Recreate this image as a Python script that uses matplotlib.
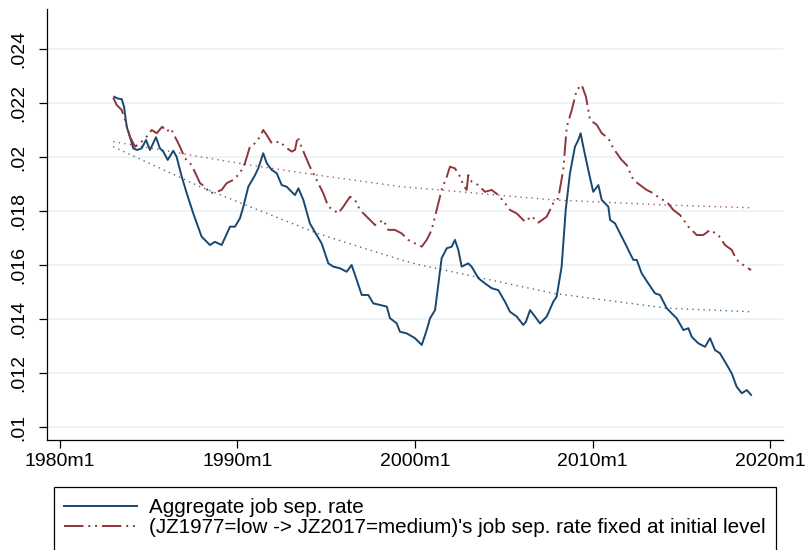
"""Aggregate job separation rate vs. rate with JZ shares fixed at initial level."""
import numpy as np
import matplotlib
matplotlib.use("Agg")
import matplotlib.pyplot as plt
from matplotlib.patches import Rectangle

# --- data (time in decimal years) ---
agg_t = [1983.06, 1983.23, 1983.48, 1983.61, 1983.76, 1983.94, 1984.13, 1984.35, 1984.60, 1984.85,
         1985.07, 1985.41, 1985.63, 1985.82, 1986.07, 1986.38, 1986.57, 1986.86, 1987.14, 1987.51,
         1987.98, 1988.45, 1988.73, 1989.11, 1989.58, 1989.86, 1990.14, 1990.33, 1990.61, 1990.99,
         1991.17, 1991.45, 1991.65, 1991.93, 1992.21, 1992.49, 1992.77, 1993.05, 1993.24, 1993.43,
         1993.71, 1994.08, 1994.46, 1994.74, 1995.12, 1995.40, 1995.77, 1996.15, 1996.43, 1996.72,
         1997.00, 1997.37, 1997.65, 1998.03, 1998.41, 1998.59, 1998.97, 1999.15, 1999.53, 2000.00,
         2000.38, 2000.66, 2000.85, 2001.13, 2001.50, 2001.79, 2002.07, 2002.25, 2002.44, 2002.63,
         2003.00, 2003.19, 2003.57, 2003.94, 2004.32, 2004.69, 2005.07, 2005.35, 2005.73, 2006.10,
         2006.25, 2006.48, 2006.76, 2007.04, 2007.42, 2007.79, 2007.98, 2008.26, 2008.49, 2008.73,
         2009.01, 2009.20, 2009.33, 2009.48, 2009.76, 2010.04, 2010.33, 2010.52, 2010.89, 2010.99,
         2011.27, 2011.55, 2011.93, 2012.11, 2012.30, 2012.49, 2012.77, 2013.14, 2013.52, 2013.80,
         2014.18, 2014.46, 2014.74, 2015.12, 2015.40, 2015.59, 2015.96, 2016.34, 2016.62, 2016.90,
         2017.18, 2017.46, 2017.84, 2018.12, 2018.41, 2018.69, 2018.93]
agg_rate = [.02223, .02217, .02214, .02186, .02112, .02075, .02032, .02026, .02032, .02063,
            .02026, .02073, .02032, .02020, .01989, .02023, .02001, .01927, .01866, .01791,
            .01705, .01674, .01686, .01674, .01742, .01742, .01773, .01816, .01890, .01933,
            .01958, .02014, .01977, .01952, .01940, .01896, .01890, .01871, .01859, .01884,
            .01841, .01754, .01711, .01680, .01606, .01594, .01588, .01575, .01600, .01544,
            .01489, .01489, .01458, .01452, .01446, .01403, .01384, .01353, .01347, .01329,
            .01304, .01359, .01403, .01433, .01625, .01662, .01668, .01693, .01656, .01594,
            .01606, .01594, .01551, .01532, .01514, .01507, .01464, .01427, .01409, .01378,
            .01390, .01433, .01409, .01384, .01409, .01464, .01483, .01594, .01804, .01940,
            .02038, .02063, .02088, .02038, .01952, .01871, .01896, .01841, .01816, .01767,
            .01754, .01717, .01668, .01643, .01619, .01619, .01569, .01532, .01495, .01489,
            .01440, .01421, .01403, .01359, .01366, .01334, .01310, .01297, .01329, .01285,
            .01273, .01242, .01199, .01149, .01125, .01137, .01119]

fix_t = [1983.00, 1983.19, 1983.48, 1983.72, 1983.94, 1984.23, 1984.51, 1984.88, 1985.17, 1985.45,
         1985.76, 1986.01, 1986.24, 1986.48, 1986.76, 1987.04, 1987.42, 1987.89, 1988.17, 1988.45,
         1988.83, 1989.11, 1989.39, 1989.76, 1990.14, 1990.42, 1990.70, 1990.99, 1991.27, 1991.45,
         1991.65, 1991.93, 1992.39, 1992.68, 1993.05, 1993.24, 1993.39, 1993.52, 1993.80, 1994.08,
         1994.46, 1994.83, 1995.12, 1995.40, 1995.68, 1995.96, 1996.34, 1996.62, 1996.90, 1997.28,
         1997.75, 1998.21, 1998.50, 1998.87, 1999.25, 1999.62, 2000.00, 2000.38, 2000.66, 2000.94,
         2001.22, 2001.50, 2001.79, 2001.97, 2002.25, 2002.54, 2002.72, 2002.91, 2003.00, 2003.19,
         2003.57, 2003.94, 2004.32, 2004.69, 2005.07, 2005.35, 2005.73, 2006.20, 2006.57, 2006.95,
         2007.42, 2007.79, 2008.07, 2008.35, 2008.55, 2008.83, 2009.11, 2009.39, 2009.63, 2009.86,
         2010.24, 2010.52, 2010.89, 2011.17, 2011.64, 2011.93, 2012.30, 2012.68, 2013.05, 2013.42,
         2013.80, 2014.18, 2014.55, 2014.93, 2015.40, 2015.87, 2016.24, 2016.62, 2017.09, 2017.46,
         2017.84, 2018.12, 2018.50, 2018.93]
fix_rate = [.02220, .02193, .02174, .02125, .02075, .02038, .02051, .02075, .02100, .02088,
            .02112, .02094, .02106, .02075, .02038, .01995, .01970, .01903, .01890, .01866,
            .01871, .01878, .01903, .01915, .01940, .01977, .02038, .02051, .02075, .02100,
            .02081, .02051, .02057, .02038, .02020, .02026, .02075, .02051, .02007, .01964,
            .01915, .01866, .01816, .01804, .01791, .01816, .01853, .01841, .01804, .01779,
            .01748, .01767, .01730, .01730, .01717, .01693, .01680, .01668, .01693, .01730,
            .01804, .01878, .01927, .01964, .01958, .01927, .01896, .01878, .01933, .01909,
            .01896, .01871, .01878, .01859, .01829, .01804, .01791, .01760, .01781, .01757,
            .01779, .01829, .01847, .01952, .02112, .02174, .02248, .02267, .02223, .02137,
            .02119, .02088, .02069, .02032, .01989, .01970, .01915, .01896, .01878, .01866,
            .01847, .01834, .01804, .01785, .01742, .01711, .01711, .01730, .01711, .01674,
            .01656, .01619, .01600, .01581]

# dotted trend lines
trend_t = [1983.0, 1987.9, 1990.7, 1994.5, 1999.2, 2000.3, 2007.8, 2014.2, 2018.9]
agg_trend = [.02038, .01890, .01816, .01717, .01619, .01600, .01495, .01440, .01427]
fix_trend = [.02057, .02001, .01970, .01933, .01890, .01884, .01841, .01822, .01812]

yticks = [.01, .012, .014, .016, .018, .02, .022, .024]
ytick_labels = [".01", ".012", ".014", ".016", ".018", ".02", ".022", ".024"]
xticks = [1980, 1990, 2000, 2010, 2020]
xtick_labels = ["1980m1", "1990m1", "2000m1", "2010m1", "2020m1"]

NAVY = "#1a476f"
MAROON = "#90353b"

plt.rcParams["font.family"] = ["Liberation Sans", "DejaVu Sans"]

fig = plt.figure(figsize=(8.09, 5.5), dpi=100)
ax = fig.add_axes([47/809, 1 - 440/550, (783 - 47)/809, (440 - 9)/550])

ax.plot(agg_t, agg_rate, color=NAVY, lw=1.4, label="Aggregate job sep. rate", zorder=4)
ax.plot(fix_t, fix_rate, color=MAROON, lw=1.4, linestyle=(0, (10, 2.5, 1, 2.5, 1, 2.5)),
        label="(JZ1977=low -> JZ2017=medium)'s job sep. rate fixed at initial level", zorder=4)
ax.plot(trend_t, agg_trend, color=NAVY, lw=1.0, linestyle=(0, (1, 3)), alpha=0.8, zorder=3)
ax.plot(trend_t, fix_trend, color=MAROON, lw=1.0, linestyle=(0, (1, 3)), alpha=0.8, zorder=3)

ax.set_xlim(1979.27, 2020.73)
ax.set_ylim(.00952, .02548)
ax.set_xticks(xticks)
ax.set_xticklabels(xtick_labels)
ax.set_yticks(yticks)
ax.set_yticklabels(ytick_labels, rotation=90, va="center")

ax.grid(axis="y", color="#eaf2f3", lw=1.2)
ax.set_axisbelow(True)
ax.spines["top"].set_visible(False)
ax.spines["right"].set_visible(False)
for s in ("left", "bottom"):
    ax.spines[s].set_color("black")
    ax.spines[s].set_linewidth(0.9)
ax.tick_params(axis="both", direction="out", length=6, width=0.9, labelsize=14)
ax.tick_params(axis="x", pad=3.5)
ax.tick_params(axis="y", pad=8)

# legend entries without matplotlib's frame; the box runs past the bottom edge as in Stata output
leg = ax.legend(loc="upper left", bbox_to_anchor=(54/809, 0, (776 - 54)/809, 1 - 488/550),
                bbox_transform=fig.transFigure, mode="expand", fontsize=14.9,
                frameon=False, handlelength=3.5, handletextpad=0.6, labelspacing=0.02,
                borderpad=0.5, borderaxespad=0)
fig.patches.append(Rectangle((54/809, -0.05), (776 - 54)/809, 0.05 + 1 - 486.7/550,
                             transform=fig.transFigure, fill=False, edgecolor="black",
                             lw=0.9, zorder=5))

fig.savefig("out.png", dpi=100)
